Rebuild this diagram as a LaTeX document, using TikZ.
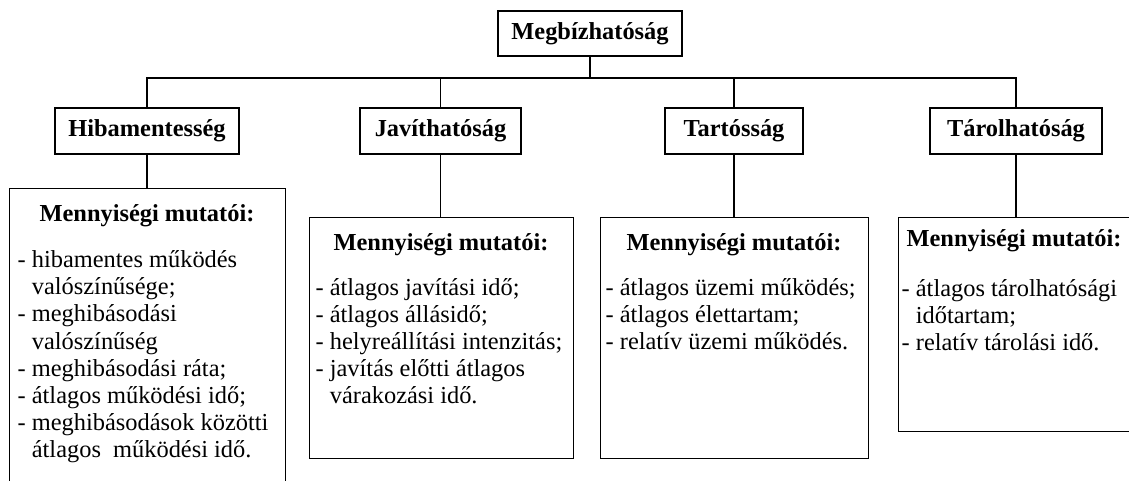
\documentclass[tikz,border=0pt]{standalone}
\usepackage{fontspec}
\setmainfont{Liberation Serif}
\begin{document}
\begin{tikzpicture}[x=1pt,y=-1pt, line width=1.3pt,
  box/.style={draw, rectangle, inner sep=0pt, font=\fontsize{24.4}{27}\selectfont\bfseries},
  frame/.style={draw, rectangle, inner sep=0pt, anchor=north west},
  head/.style={anchor=base, inner sep=0pt, font=\fontsize{24.4}{27}\selectfont\bfseries},
  ln/.style={anchor=base west, inner sep=0pt, font=\fontsize{24.4}{27}\selectfont},
  wire/.style={draw, line width=1.3pt}]
\useasboundingbox (0,0) rectangle (1129,481);

% top level
\node[box, minimum width=184pt, minimum height=45pt] (top) at (590,33.5) {Megbízhatóság};
\coordinate (bus) at (590,78);

% second level
\node[box, minimum width=184pt, minimum height=46pt] (hib2) at (147,131) {Hibamentesség};
\node[box, minimum width=161pt, minimum height=46pt] (jav2) at (440.5,131) {Javíthatóság};
\node[box, minimum width=138pt, minimum height=46pt] (tart2) at (734,131) {Tartósság};
\node[box, minimum width=172pt, minimum height=46pt] (tar2) at (1016,131) {Tárolhatóság};

% third level frames (partly cut by the picture edge)
\begin{scope}
\clip (0,0) rectangle (1129,481);
\node[frame, minimum width=276pt, minimum height=310pt] (hib3) at (9,188) {};
\node[frame, minimum width=264pt, minimum height=241pt] (jav3) at (309,217) {};
\node[frame, minimum width=268pt, minimum height=241pt] (tart3) at (600,217) {};
\node[frame, minimum width=250pt, minimum height=214pt] (tar3) at (898,217) {};
\end{scope}

% connectors
\draw[wire] (top.south) -- (bus);
\draw[wire] (hib2.north) -- (hib2.north |- bus) -- (tar2.north |- bus) -- (tar2.north);
\draw[wire] (jav2.north) -- (jav2.north |- bus);
\draw[wire] (tart2.north) -- (tart2.north |- bus);
\draw[wire] (hib2.south) -- (hib2.south |- hib3.north);
\draw[wire] (jav2.south) -- (jav2.south |- jav3.north);
\draw[wire] (tart2.south) -- (tart2.south |- tart3.north);
\draw[wire] (tar2.south) -- (tar2.south |- tar3.north);

% Hibamentesség list
\node[head] (hh) at (147,222) {Mennyiségi mutatói:};
\node[ln] (h1) at (17,267.5) {- hibamentes működés};
\node[ln] (h2) at (17,294.7) {\hphantom{- }valószínűsége;};
\node[ln] (h3) at (17,321.9) {- meghibásodási};
\node[ln] (h4) at (17,349.1) {\hphantom{- }valószínűség};
\node[ln] (h5) at (17,376.3) {- meghibásodási ráta;};
\node[ln] (h6) at (17,403.5) {- átlagos működési idő;};
\node[ln] (h7) at (17,430.7) {- meghibásodások közötti};
\node[ln] (h8) at (17,457.9) {\hphantom{- }átlagos\ \ működési idő.};

% Javíthatóság list
\node[head] (jh) at (441,250.5) {Mennyiségi mutatói:};
\node[ln] (j1) at (315,295) {- átlagos javítási idő;};
\node[ln] (j2) at (315,322) {- átlagos állásidő;};
\node[ln] (j3) at (315,349) {- helyreállítási intenzitás;};
\node[ln] (j4) at (315,376) {- javítás előtti átlagos};
\node[ln] (j5) at (315,403) {\hphantom{- }várakozási idő.};

% Tartósság list
\node[head] (th) at (734,250.5) {Mennyiségi mutatói:};
\node[ln] (t1) at (605,295) {- átlagos üzemi működés;};
\node[ln] (t2) at (605,322) {- átlagos élettartam;};
\node[ln] (t3) at (605,349) {- relatív üzemi működés.};

% Tárolhatóság list
\node[head] (rh) at (1014,246.5) {Mennyiségi mutatói:};
\node[ln] (r1) at (901,296) {- átlagos tárolhatósági};
\node[ln] (r2) at (901,323) {\hphantom{- }időtartam;};
\node[ln] (r3) at (901,350) {- relatív tárolási idő.};
\end{tikzpicture}
\end{document}
